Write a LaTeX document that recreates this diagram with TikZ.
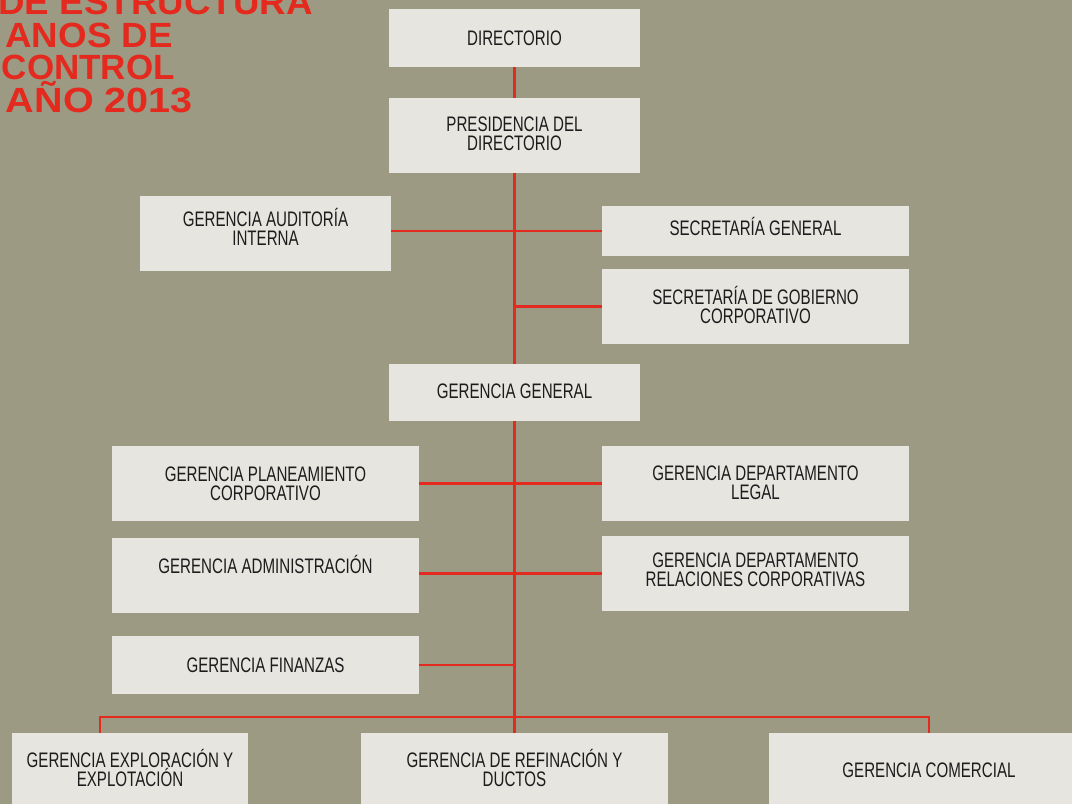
\documentclass[tikz,border=0pt]{standalone}
\usepackage{fontspec}
\setmainfont{Liberation Sans}
\newfontfamily\boxfont[FakeStretch=0.72]{Liberation Sans}
\newfontfamily\headfont[FakeStretch=1.05]{Liberation Sans}
\newfontfamily\headwide[FakeStretch=1.13]{Liberation Sans}
\definecolor{bggray}{RGB}{156,154,130}
\definecolor{boxgray}{RGB}{230,229,224}
\definecolor{linered}{RGB}{228,42,30}
\definecolor{boxtext}{RGB}{28,28,28}
% invisible strut below the last line, lifts the text by half its length
\newcommand\boxlift[1]{\rule[-#1]{0pt}{#1}}

\begin{document}
\begin{tikzpicture}[x=1pt, y=-1pt,
        box/.style={rectangle, fill=boxgray, inner sep=0pt, minimum width=307pt, minimum height=75pt,
            align=center, text=boxtext, font=\boxfont\fontsize{21}{19}\selectfont},
        narrow/.style={minimum width=251pt},
        link/.style={draw=linered, line width=2.2pt},
        heading/.style={anchor=base east, inner sep=0pt, text=linered, font=\headfont\bfseries\fontsize{35}{35}\selectfont}]
            \clip (0, 0) rectangle (1072, 804);
            \fill[bggray] (0, 0) rectangle (1072, 804);

            \node[heading] (t1) at (313, 14) {DE ESTRUCTURA};
            \node[heading] (t2) at (173, 47) {ANOS DE};
            \node[heading, font=\bfseries\fontsize{35}{35}\selectfont] (t3) at (175, 79) {CONTROL};
            \node[heading, font=\headwide\bfseries\fontsize{35}{35}\selectfont] (t4) at (193, 112) {AÑO 2013};

            \node[box, narrow, minimum height=58pt] (directorio) at (514.5, 38) {DIRECTORIO};
            \node[box, narrow] (presidencia) at (514.5, 135.5) {PRESIDENCIA DEL\\DIRECTORIO\boxlift{3pt}};
            \node[box, narrow] (auditoria) at (265.5, 233.5) {GERENCIA AUDITORÍA\\INTERNA\boxlift{14pt}};
            \node[box, minimum height=50pt] (secgeneral) at (755.5, 231) {SECRETARÍA GENERAL\boxlift{10pt}};
            \node[box] (secgobierno) at (755.5, 306.5) {SECRETARÍA DE GOBIERNO\\CORPORATIVO\boxlift{3.5pt}};
            \node[box, narrow, minimum height=57pt] (gergeneral) at (514.5, 392.5) {GERENCIA GENERAL\boxlift{2pt}};
            \node[box] (planeamiento) at (265.5, 483.5) {GERENCIA PLANEAMIENTO\\CORPORATIVO};
            \node[box] (legal) at (755.5, 483.5) {GERENCIA DEPARTAMENTO\\LEGAL\boxlift{1pt}};
            \node[box] (admin) at (265.5, 575.5) {GERENCIA ADMINISTRACIÓN\\\phantom{G}\boxlift{4pt}};
            \node[box] (relaciones) at (755.5, 573.5) {GERENCIA DEPARTAMENTO\\RELACIONES CORPORATIVAS\boxlift{7pt}};
            \node[box, minimum height=58pt] (finanzas) at (265.5, 665) {GERENCIA FINANZAS};
            \node[box, minimum width=236pt] (exploracion) at (130, 770.5) {GERENCIA EXPLORACIÓN Y\\EXPLOTACIÓN\boxlift{6pt}};
            \node[box] (refinacion) at (514.5, 770.5) {GERENCIA DE REFINACIÓN Y\\DUCTOS\boxlift{5pt}};
            \node[box, minimum width=320pt] (comercial) at (929, 770.5) {GERENCIA COMERCIAL};

            \coordinate (bus) at (514.5, 717);
            \coordinate (busl) at (100, 717);
            \coordinate (busr) at (929, 717);

            \draw[link] (directorio) -- (presidencia);
            \draw[link] (presidencia) -- (gergeneral);
            \draw[link] (auditoria.east |- secgeneral) -- (secgeneral.west);
            \draw[link] (secgobierno.west) -- (secgobierno.west -| presidencia.south);
            \draw[link] (gergeneral) -- (bus);
            \draw[link] (planeamiento) -- (legal);
            \draw[link] (admin.east |- relaciones) -- (relaciones.west);
            \draw[link] (finanzas) -- (finanzas -| bus);
            \draw[link] (exploracion.north -| busl) -- (busl) -- (busr) -- (comercial.north -| busr);
            \draw[link] (bus) -- (refinacion);
        \end{tikzpicture}
\end{document}
